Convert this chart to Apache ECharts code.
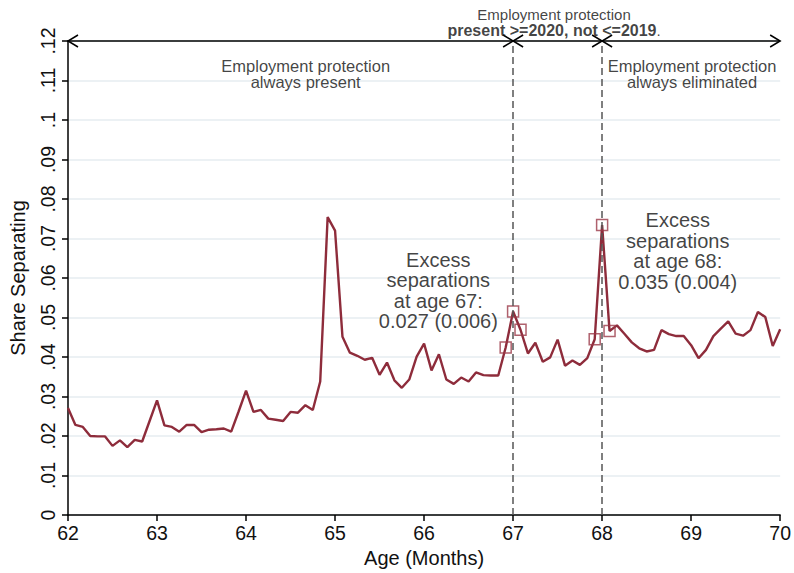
<!DOCTYPE html>
<html>
<head>
<meta charset="utf-8">
<script src="https://cdn.jsdelivr.net/npm/echarts@6/dist/echarts.min.js"></script>
<style>
  html, body { margin: 0; padding: 0; background: #fff; }
  #chart { width: 794px; height: 573px; }
</style>
</head>
<body>
<div id="chart"></div>
<script>
// Monthly share separating, ages 62 to 70 (one value per month of age)
const startAge = 62;
const shareSeparating = [
  0.0271, 0.0228, 0.0223, 0.0200, 0.0199, 0.0199, 0.0175, 0.0189, 0.0172, 0.0190, 0.0186, 0.0238,
  0.0290, 0.0227, 0.0223, 0.0211, 0.0228, 0.0228, 0.0210, 0.0216, 0.0217, 0.0219, 0.0211, 0.0262,
  0.0315, 0.0261, 0.0266, 0.0244, 0.0241, 0.0238, 0.0261, 0.0259, 0.0278, 0.0266, 0.0338, 0.0754,
  0.0720, 0.0451, 0.0411, 0.0403, 0.0393, 0.0398, 0.0355, 0.0386, 0.0341, 0.0322, 0.0343, 0.0401,
  0.0434, 0.0366, 0.0407, 0.0343, 0.0332, 0.0348, 0.0338, 0.0361, 0.0354, 0.0353, 0.0353, 0.0424,
  0.0515, 0.0469, 0.0409, 0.0436, 0.0388, 0.0399, 0.0444, 0.0378, 0.0391, 0.0380, 0.0397, 0.0445,
  0.0734, 0.0466, 0.0480, 0.0459, 0.0437, 0.0422, 0.0414, 0.0418, 0.0468, 0.0458, 0.0453, 0.0453,
  0.0430, 0.0397, 0.0418, 0.0453, 0.0472, 0.0490, 0.0459, 0.0454, 0.0468, 0.0514, 0.0501, 0.0428,
  0.0470
];
// Months (offset from age 62) that are highlighted around the 67 and 68 thresholds
const highlightedMonths = [59, 60, 61, 71, 72, 73];

// Policy regime thresholds and the spans marked along the top of the plot
const thresholds = [67, 68];
const regimeSpans = [[62, 67], [67, 68], [68, 70]];
const topLevel = 0.12;

// Axis ticks
const xTicks = [62, 63, 64, 65, 66, 67, 68, 69, 70];
const yTicks = [0, 0.01, 0.02, 0.03, 0.04, 0.05, 0.06, 0.07, 0.08, 0.09, 0.1, 0.11, 0.12];

// Annotation texts
const excess67 = ['Excess', 'separations', 'at age 67:', '0.027 (0.006)'];
const excess68 = ['Excess', 'separations', 'at age 68:', '0.035 (0.004)'];
const regimeLeft = ['Employment protection', 'always present'];
const regimeRight = ['Employment protection', 'always eliminated'];
const regimeMiddleTitle = 'Employment protection';
const regimeMiddleBold = 'present >=2020, not <=2019';

const lineColor = '#8e2c3b';
const font = "'Liberation Sans', Arial, Helvetica, sans-serif";

const monthAge = i => startAge + i / 12;
const lineData = shareSeparating.map((v, i) => [monthAge(i), v]);
const markerData = highlightedMonths.map(i => [monthAge(i), shareSeparating[i]]);

const chart = echarts.init(document.getElementById('chart'), null, { renderer: 'svg' });

function chevron(px, py, dir) {
  return [[px + dir * 10, py - 6], [px, py], [px + dir * 10, py + 6]];
}

chart.setOption({
  animation: false,
  backgroundColor: '#ffffff',
  grid: { left: 64, right: 13, top: 41, bottom: 53 },
  xAxis: {
    type: 'value',
    min: xTicks[0],
    max: xTicks[xTicks.length - 1],
    interval: 1,
    name: 'Age (Months)',
    nameLocation: 'middle',
    nameGap: 33,
    nameTextStyle: { fontFamily: font, fontSize: 20, color: '#111' },
    axisLine: { show: true, lineStyle: { color: '#000', width: 1.5 } },
    axisTick: { show: true, length: 6, lineStyle: { color: '#000', width: 1.5 } },
    axisLabel: { fontFamily: font, fontSize: 19.5, color: '#111', margin: 8 },
    splitLine: { show: false }
  },
  yAxis: {
    type: 'value',
    min: yTicks[0],
    max: yTicks[yTicks.length - 1],
    interval: 0.01,
    name: 'Share Separating',
    nameLocation: 'middle',
    nameGap: 40,
    nameRotate: 90,
    nameTextStyle: { fontFamily: font, fontSize: 20, color: '#111' },
    axisLine: { show: true, lineStyle: { color: '#000', width: 1.5 } },
    axisTick: { show: true, length: 6, lineStyle: { color: '#000', width: 1.5 } },
    axisLabel: {
      fontFamily: font, fontSize: 19.5, color: '#111', rotate: 90, margin: 10,
      formatter: v => (v === 0 ? '0' : String(+v.toFixed(2)).replace(/^0/, ''))
    },
    splitLine: { show: true, lineStyle: { color: '#e6edf1', width: 1.5 } }
  },
  series: [
    {
      type: 'line',
      data: lineData,
      showSymbol: false,
      lineStyle: { color: lineColor, width: 2.4 },
      z: 3,
      markLine: {
        silent: true,
        symbol: 'none',
        label: { show: false },
        lineStyle: { color: '#555', type: [7, 4], width: 1.5 },
        data: thresholds.map(t => [{ coord: [t, 0] }, { coord: [t, topLevel] }])
      }
    },
    {
      type: 'scatter',
      data: markerData,
      symbol: 'rect',
      symbolSize: 11,
      itemStyle: { color: 'rgba(0,0,0,0)', borderColor: '#9b3a48', borderWidth: 1.5 },
      z: 4
    },
    {
      // double-headed arrows marking each policy regime
      type: 'custom',
      clip: false,
      data: regimeSpans.map(s => [s[0], s[1], topLevel]),
      renderItem: (params, api) => {
        const p0 = api.coord([api.value(0), api.value(2)]);
        const p1 = api.coord([api.value(1), api.value(2)]);
        const style = { stroke: '#000', lineWidth: 1.5, fill: null };
        return {
          type: 'group',
          children: [
            { type: 'line', shape: { x1: p0[0], y1: p0[1], x2: p1[0], y2: p1[1] }, style },
            { type: 'polyline', shape: { points: chevron(p0[0], p0[1], 1) }, style },
            { type: 'polyline', shape: { points: chevron(p1[0], p1[1], -1) }, style }
          ]
        };
      },
      z: 5
    },
    {
      // text annotations placed in data coordinates
      type: 'scatter',
      clip: false,
      symbolSize: 0,
      silent: true,
      z: 6,
      data: [
        {
          value: [66.16, 0.0568],
          label: { formatter: excess67.join('\n'), fontFamily: font, fontSize: 20, lineHeight: 20.5, color: '#111' }
        },
        {
          value: [68.85, 0.0668],
          label: { formatter: excess68.join('\n'), fontFamily: font, fontSize: 20, lineHeight: 20.5, color: '#111' }
        },
        {
          value: [64.67, 0.1116],
          label: { formatter: regimeLeft.join('\n'), fontFamily: font, fontSize: 16.5, lineHeight: 16.5, color: '#111' }
        },
        {
          value: [69.01, 0.1116],
          label: { formatter: regimeRight.join('\n'), fontFamily: font, fontSize: 16.5, lineHeight: 16.5, color: '#111' }
        },
        {
          value: [67.46, 0.1246],
          label: {
            formatter: '{t|' + regimeMiddleTitle + '}\n{b|' + regimeMiddleBold + '}{t|.}',
            rich: {
              t: { fontFamily: font, fontSize: 15, lineHeight: 16, color: '#111' },
              b: { fontFamily: font, fontSize: 16, lineHeight: 16, fontWeight: 'bold', color: '#111' }
            }
          }
        }
      ],
      label: { show: true, position: 'inside', align: 'center', verticalAlign: 'middle' }
    }
  ]
});
</script>
</body>
</html>
